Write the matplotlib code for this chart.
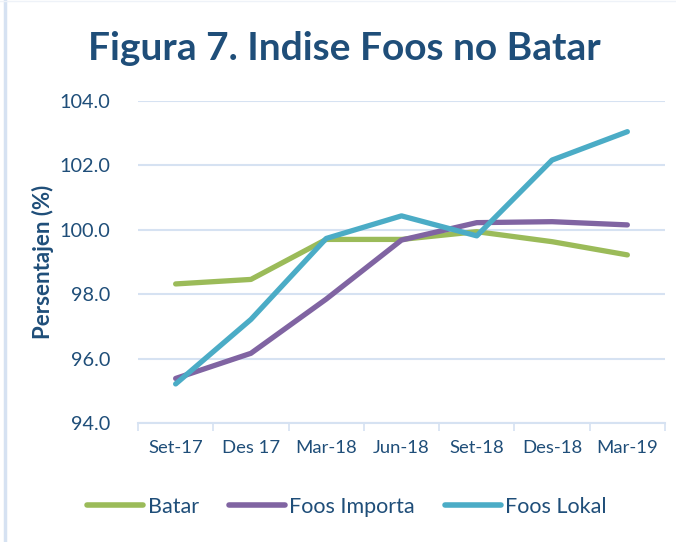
import matplotlib
matplotlib.use("Agg")
import matplotlib.pyplot as plt
from matplotlib.lines import Line2D

# data
periods = ["Set-17", "Des 17", "Mar-18", "Jun-18", "Set-18", "Des-18", "Mar-19"]
batar = [98.32, 98.46, 99.70, 99.70, 99.94, 99.63, 99.22]
foos_importa = [95.39, 96.17, 97.85, 99.68, 100.22, 100.25, 100.15]
foos_lokal = [95.22, 97.22, 99.73, 100.43, 99.81, 102.16, 103.04]
yticks = [94.0, 96.0, 98.0, 100.0, 102.0, 104.0]

txt = "#1F4E79"
grid = "#D6E2F2"
plt.rcParams['font.family'] = ['Lato', 'DejaVu Sans']

fig = plt.figure(figsize=(6.76, 5.42), dpi=100)
ax = fig.add_axes([138/676, 1-423.3/542, 527/676, 322.6/542])

x = range(len(periods))
ax.plot(x, batar, color="#9BBB59", lw=3.8, solid_capstyle="round", label="Batar")
ax.plot(x, foos_importa, color="#8064A2", lw=3.8, solid_capstyle="round", label="Foos Importa")
ax.plot(x, foos_lokal, color="#4BACC6", lw=3.8, solid_capstyle="round", label="Foos Lokal")

ax.set_xlim(-0.5, len(periods)-0.5)
ax.set_ylim(94, 104)
ax.set_yticks(yticks)
ax.set_yticklabels(["%.1f" % v for v in yticks])
ax.set_xticks(list(x))
ax.set_xticklabels(periods)
ax.set_xticks([i-0.5 for i in range(len(periods)+1)], minor=True)
ax.tick_params(axis='x', which='major', length=0, pad=12, labelsize=13.3, labelcolor=txt)
ax.tick_params(axis='x', which='minor', length=6, width=1.2, color=grid, direction='out')
ax.tick_params(axis='y', length=0, pad=20, labelsize=14.3, labelcolor=txt)
ax.grid(axis='y', color=grid, lw=1.5)
ax.set_axisbelow(True)
for s in ["top", "right", "left"]:
    ax.spines[s].set_visible(False)
ax.spines["bottom"].set_color(grid)
ax.spines["bottom"].set_linewidth(1.5)

ax.set_ylabel("Persentajen (%)", fontsize=16, fontweight='bold', color=txt, labelpad=4)
fig.text(344/676, 1-48/542, "Figura 7. Indise Foos no Batar", ha='center', va='center',
         fontsize=28, fontweight='bold', color=txt)

handles = [Line2D([], [], color=c, lw=4, solid_capstyle="round") for c in ["#9BBB59", "#8064A2", "#4BACC6"]]
fig.legend(handles, ["Batar", "Foos Importa", "Foos Lokal"], loc='center',
           bbox_to_anchor=(347/676, 1-507/542), ncol=3, frameon=False, fontsize=15.5,
           labelcolor=txt, handlelength=2.6, handletextpad=0.2, columnspacing=1.4)

fig.add_artist(Line2D([5/676, 5/676], [0, 1], color=grid, lw=2.5, transform=fig.transFigure))
fig.add_artist(Line2D([0, 1], [0.999, 0.999], color="#EEF2F8", lw=1, transform=fig.transFigure))

fig.savefig("out.png", dpi=100)
